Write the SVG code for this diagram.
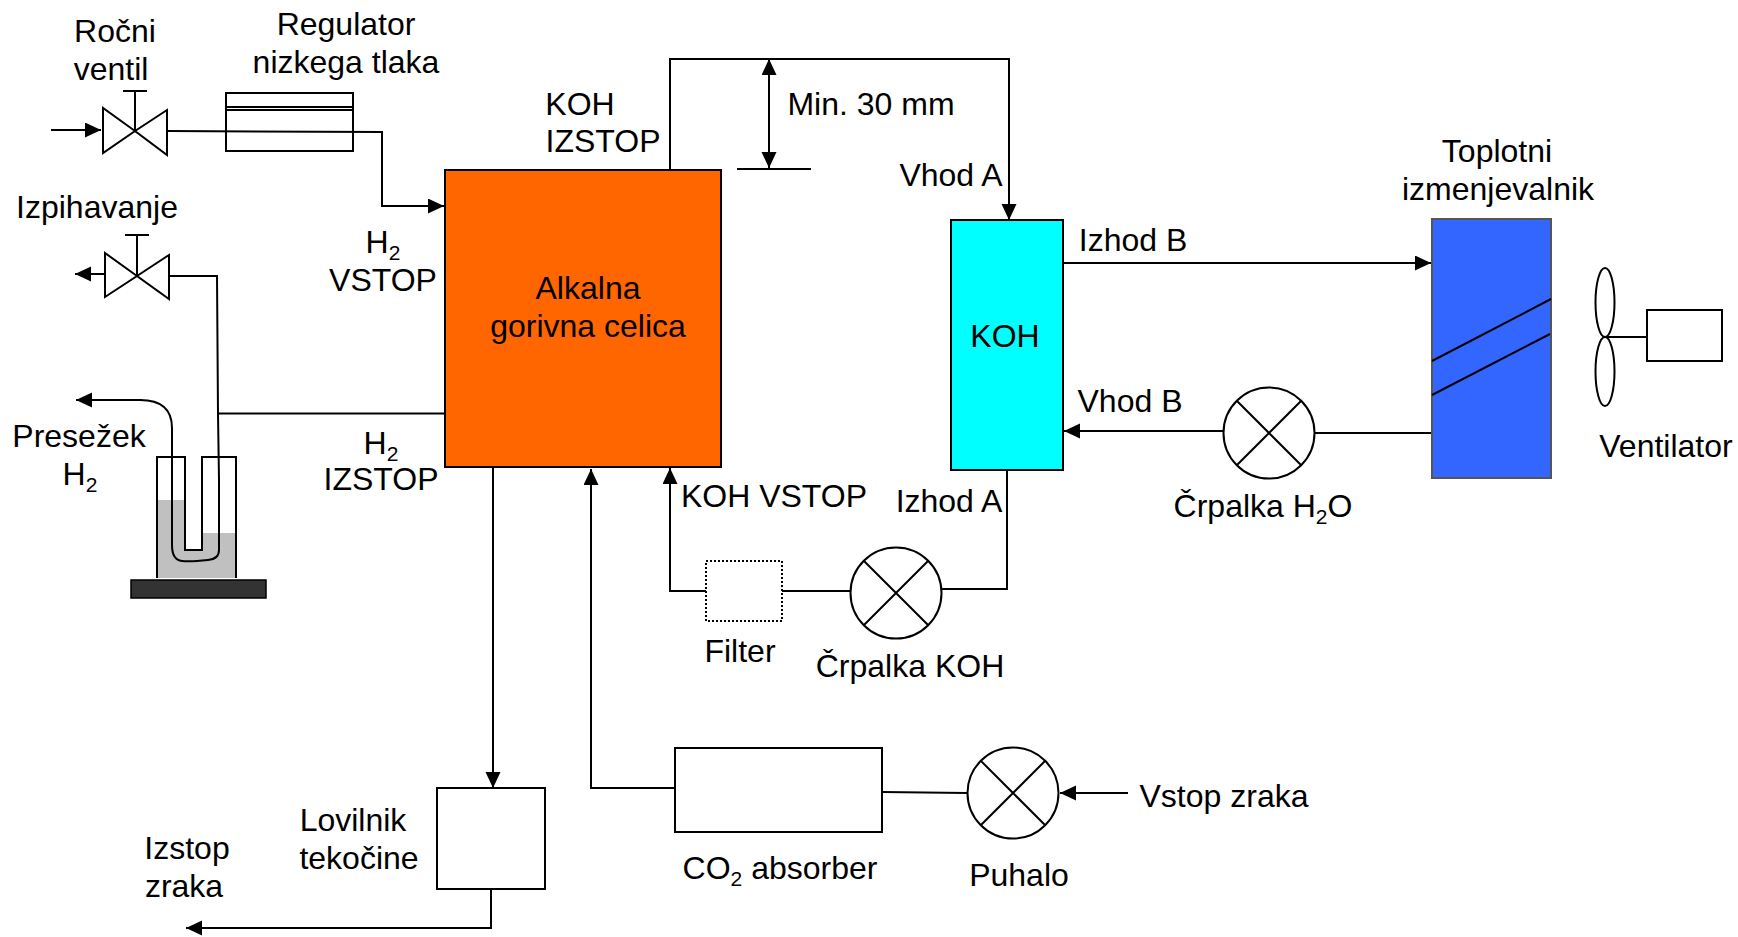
<svg xmlns="http://www.w3.org/2000/svg" width="1738" height="937" viewBox="0 0 1738 937">
<style>
text{font-family:"Liberation Sans",Arial,sans-serif;font-size:32px;fill:#000;text-anchor:middle}
.s{font-size:21px}
.l{fill:none;stroke:#000;stroke-width:2}
.b{fill:#fff;stroke:#000;stroke-width:2}
.a{fill:none;stroke:#000;stroke-width:2;marker-end:url(#ah)}
</style>
<defs>
<marker id="ah" markerUnits="userSpaceOnUse" markerWidth="18" markerHeight="16" refX="16" refY="7.500" orient="auto"><path d="M0 0L16 7.500L0 15Z" fill="#000"/></marker>
<marker id="as" markerUnits="userSpaceOnUse" markerWidth="18" markerHeight="16" refX="16" refY="7.500" orient="auto-start-reverse"><path d="M0 0L16 7.500L0 15Z" fill="#000"/></marker>
<g id="pump"><circle r="45.500" class="b"/><path class="l" d="M-32-32L32 32M-32 32L32-32"/></g>
</defs>
<rect width="1738" height="937" fill="#fff"/>
<g id="connectors">
<path class="a" d="M51 130H101"/>
<path class="a" d="M168 131L382 132V206H444"/>
<path class="a" d="M105 274H75"/>
<path class="a" d="M142 400H76"/>
<path class="l" d="M169 276H217L218 414"/>
<path class="l" d="M218 413.500H444"/>
<path class="a" d="M670 170V59H1009V220"/>
<path class="l" d="M737 169H811"/>
<path d="M769 59V168" class="l" marker-start="url(#as)" marker-end="url(#as)"/>
<path class="a" d="M1063 263H1431"/>
<path class="l" d="M1315 433H1432"/>
<path class="a" d="M1223 431H1064"/>
<path class="l" d="M942 589L1007 589V470"/>
<path class="l" d="M782 591H850"/>
<path class="a" d="M706 591H670V468"/>
<path class="a" d="M493 467V788"/>
<path class="a" d="M675 788H591V469"/>
<path class="l" d="M882 792L967 793"/>
<path class="a" d="M1128 793H1060"/>
<path class="a" d="M491 889V928H186"/>
</g>
<g id="valve-rocni"><path class="l" d="M135 131L103 108V153ZM135 131L167 110V155ZM135 131V91M123 91H147"/></g>
<g id="regulator"><rect x="226" y="93" width="127" height="58" fill="none" stroke="#000" stroke-width="2"/><path class="l" d="M226 107H353M226 110H353"/></g>
<g id="valve-izpih"><path class="l" d="M137 276L105 253V297ZM137 276L169 255V299ZM137 276V235M125 235H149"/></g>
<g id="trap">
<path d="M157 500H185V550H202V533H236V578H157Z" fill="#c0c0c0"/>
<path class="l" d="M157 578V457H185V550H202V457H236V578"/>
<path class="l" d="M219 480L219 550Q219 559 208 560Q190 562 182 561Q172 560 172 545V428Q172 400 140 400M218 414L219 480"/>
<rect x="131" y="580" width="135" height="18" fill="#333" stroke="#000" stroke-width="1.500"/>
</g>
<g id="fuel-cell"><rect x="445" y="170" width="276" height="297" fill="#f60" stroke="#000" stroke-width="2"/></g>
<g id="koh"><rect x="951" y="220" width="112" height="250" fill="#0ff" stroke="#000" stroke-width="2"/></g>
<g id="hx"><rect x="1432" y="219" width="119" height="259" fill="#36f" stroke="#555" stroke-width="2"/><path class="l" d="M1432 361L1551 299M1432 395L1550 334"/></g>
<g id="fan"><ellipse cx="1605" cy="302.500" rx="9.500" ry="34.500" fill="none" stroke="#000" stroke-width="2"/><ellipse cx="1605" cy="371.500" rx="9.500" ry="34.500" fill="none" stroke="#000" stroke-width="2"/><path class="l" d="M1605 337H1647"/><rect x="1647" y="310" width="75" height="51" class="b"/></g>
<g id="pump-h2o"><use href="#pump" x="1269" y="433"/></g>
<g id="pump-koh"><use href="#pump" x="896" y="593"/></g>
<g id="blower"><use href="#pump" x="1013" y="793"/></g>
<g id="filter"><rect x="706" y="561" width="76" height="60" fill="#fff" stroke="#000" stroke-width="2" stroke-dasharray="2 2"/></g>
<g id="co2"><rect x="675" y="748" width="207" height="84" class="b"/></g>
<g id="trap-liquid"><rect x="437" y="788" width="108" height="101" class="b"/></g>
<g id="labels">
<text x="115" y="42">Ročni</text>
<text x="111" y="80">ventil</text>
<text x="346" y="35">Regulator</text>
<text x="346" y="73">nizkega tlaka</text>
<text x="97" y="218">Izpihavanje</text>
<text x="383" y="253">H<tspan class="s" dy="7">2</tspan></text>
<text x="383" y="291">VSTOP</text>
<text x="580" y="115">KOH</text>
<text x="603" y="152">IZSTOP</text>
<text x="871" y="115">Min. 30 mm</text>
<text x="951" y="186">Vhod A</text>
<text x="1133" y="251">Izhod B</text>
<text x="1497" y="162">Toplotni</text>
<text x="1498" y="200">izmenjevalnik</text>
<text x="588" y="299">Alkalna</text>
<text x="588" y="337">gorivna celica</text>
<text x="1005" y="347">KOH</text>
<text x="1130" y="412">Vhod B</text>
<text x="1666" y="457">Ventilator</text>
<text x="1263" y="517">Črpalka H<tspan class="s" dy="7">2</tspan><tspan dy="-7">O</tspan></text>
<text x="79" y="447">Presežek</text>
<text x="80" y="485">H<tspan class="s" dy="7">2</tspan></text>
<text x="381" y="454">H<tspan class="s" dy="7">2</tspan></text>
<text x="381" y="490">IZSTOP</text>
<text x="774" y="507">KOH VSTOP</text>
<text x="949" y="512">Izhod A</text>
<text x="740" y="662">Filter</text>
<text x="910" y="677">Črpalka KOH</text>
<text x="353" y="831">Lovilnik</text>
<text x="359" y="869">tekočine</text>
<text x="187" y="859">Izstop</text>
<text x="184" y="897">zraka</text>
<text x="780" y="879">CO<tspan class="s" dy="7">2</tspan><tspan dy="-7"> absorber</tspan></text>
<text x="1019" y="886">Puhalo</text>
<text x="1224" y="807">Vstop zraka</text>
</g>
</svg>
